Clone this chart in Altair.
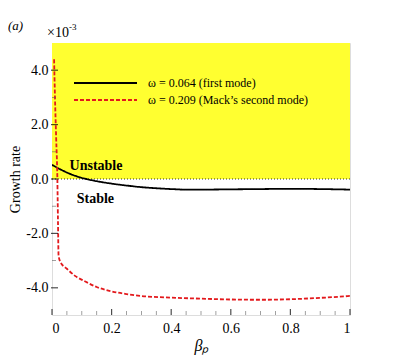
import altair as alt
import pandas as pd

# ---- data (growth rate in units of 1e-3) ----
beta_first = [0.0, 0.02, 0.04, 0.06, 0.08, 0.10, 0.115, 0.15, 0.20, 0.25, 0.30, 0.35,
              0.40, 0.45, 0.50, 0.60, 0.70, 0.80, 0.90, 1.0]
rate_first = [0.52, 0.40, 0.29, 0.19, 0.11, 0.04, 0.0, -0.08, -0.17, -0.24, -0.30, -0.34,
              -0.37, -0.39, -0.39, -0.38, -0.37, -0.36, -0.37, -0.39]

beta_second = [0.007, 0.010, 0.014, 0.018, 0.020, 0.022, 0.028, 0.05, 0.08, 0.11, 0.15,
               0.20, 0.25, 0.30, 0.40, 0.50, 0.60, 0.70, 0.80, 0.90, 1.0]
rate_second = [4.4, 3.0, 1.5, 0.0, -1.5, -2.8, -3.05, -3.3, -3.58, -3.76, -3.97,
               -4.13, -4.23, -4.30, -4.36, -4.40, -4.43, -4.44, -4.42, -4.37, -4.30]

series_names = ["\u03c9 = 0.064 (first mode)", "\u03c9 = 0.209 (Mack\u2019s second mode)"]
series_colors = ["#000000", "#e3191c"]
series_dash = [[1, 0], [4, 2]]

x_major = [0.0, 0.2, 0.4, 0.6, 0.8, 1.0]
x_minor = [0.05, 0.1, 0.15, 0.25, 0.3, 0.35, 0.45, 0.5, 0.55, 0.65, 0.7, 0.75, 0.85, 0.9, 0.95]
y_major = [-4, -2, 0, 2, 4]
y_minor = [-3, -1, 1, 3]

x_domain = [0, 1]
y_domain = [-5, 5]

W, H = 298, 272
FONT = "Liberation Serif"

rows = []
for b, r in zip(beta_first, rate_first):
    rows.append({"beta": b, "rate": r, "series": series_names[0], "i": len(rows)})
for b, r in zip(beta_second, rate_second):
    rows.append({"beta": b, "rate": r, "series": series_names[1], "i": len(rows)})
df = pd.DataFrame(rows)

xs = alt.Scale(domain=x_domain, nice=False)
ys = alt.Scale(domain=y_domain, nice=False)

# unstable region
region = pd.DataFrame({"x": [x_domain[0]], "x2": [x_domain[1]], "y": [0], "y2": [y_domain[1]]})
rect = alt.Chart(region).mark_rect(color="#ffff30").encode(
    x=alt.X("x:Q", scale=xs, axis=alt.Axis(
        title="\u03b2\u209a", values=x_major, format="~g", ticks=False, domain=False, grid=False,
        labelFont=FONT, labelFontSize=14, labelColor="black", labelPadding=6,
        titleFont=FONT, titleFontSize=16, titleFontStyle="italic", titleFontWeight="normal",
        titleColor="black", titlePadding=2)),
    x2="x2:Q",
    y=alt.Y("y:Q", scale=ys, axis=alt.Axis(
        title="Growth rate", values=y_major, ticks=False, domain=False, grid=False,
        labelExpr="datum.value < 0 ? '-' + format(-datum.value, '.1f') : format(datum.value, '.1f')",
        labelFont=FONT, labelFontSize=14, labelColor="black", labelPadding=4,
        titleFont=FONT, titleFontSize=14, titleFontWeight="normal", titleColor="black",
        titlePadding=3)),
    y2="y2:Q",
)

zero = pd.DataFrame({"x": [x_domain[0]], "x2": [x_domain[1]], "y": [0]})
zero_rule = alt.Chart(zero).mark_rule(color="black", strokeWidth=0.8, strokeDash=[1, 2]).encode(
    x=alt.X("x:Q", scale=xs), x2="x2:Q", y=alt.Y("y:Q", scale=ys))

lines = alt.Chart(df).mark_line(strokeWidth=1.8, interpolate="monotone", clip=True).encode(
    x=alt.X("beta:Q", scale=xs),
    y=alt.Y("rate:Q", scale=ys),
    order="i:Q",
    color=alt.Color("series:N", scale=alt.Scale(domain=series_names, range=series_colors),
                    legend=None),
    strokeDash=alt.StrokeDash("series:N", scale=alt.Scale(domain=series_names,
                                                          range=series_dash), legend=None),
)

# manual legend (line sample + label per series)
legend_layers = []
for k, (name, col, dash) in enumerate(zip(series_names, series_colors, series_dash)):
    yy = 40 + 17 * k
    one = pd.DataFrame({"t": [name]})
    legend_layers.append(alt.Chart(one).mark_rule(color=col, strokeWidth=1.8, strokeDash=dash).encode(
        x=alt.value(22), x2=alt.value(85), y=alt.value(yy)))
    legend_layers.append(alt.Chart(one).mark_text(font=FONT, fontSize=12, align="left",
                                                  baseline="middle", color="black").encode(
        x=alt.value(96), y=alt.value(yy), text="t:N"))

xmaj = alt.Chart(pd.DataFrame({"v": x_major})).mark_tick(orient="vertical", size=6, thickness=1.2,
                                                         color="black").encode(
    x=alt.X("v:Q", scale=xs), y=alt.value(H - 3))
xmin = alt.Chart(pd.DataFrame({"v": x_minor})).mark_tick(orient="vertical", size=4, thickness=0.8,
                                                         color="#555").encode(
    x=alt.X("v:Q", scale=xs), y=alt.value(H - 2))
ymaj = alt.Chart(pd.DataFrame({"v": y_major})).mark_tick(orient="horizontal", size=7, thickness=1.2,
                                                         color="black").encode(
    y=alt.Y("v:Q", scale=ys), x=alt.value(2.5))
ymin = alt.Chart(pd.DataFrame({"v": y_minor})).mark_tick(orient="horizontal", size=4, thickness=0.8,
                                                         color="#555").encode(
    y=alt.Y("v:Q", scale=ys), x=alt.value(2))

labels = pd.DataFrame({"x": [0.059, 0.083], "y": [0.34, -0.87], "t": ["Unstable", "Stable"]})
region_text = alt.Chart(labels).mark_text(font=FONT, fontSize=14, fontWeight="bold", align="left",
                                          baseline="alphabetic", color="black").encode(
    x=alt.X("x:Q", scale=xs), y=alt.Y("y:Q", scale=ys), text="t:N")

scale_note = alt.Chart(pd.DataFrame({"t": ["\u00d710"]})).mark_text(
    font=FONT, fontSize=14, align="left", baseline="alphabetic", color="black").encode(
    x=alt.value(-5), y=alt.value(-6), text="t:N")
scale_exp = alt.Chart(pd.DataFrame({"t": ["-3"]})).mark_text(
    font=FONT, fontSize=9, align="left", baseline="alphabetic", color="black").encode(
    x=alt.value(17), y=alt.value(-13), text="t:N")
panel = alt.Chart(pd.DataFrame({"t": ["(a)"]})).mark_text(
    font=FONT, fontSize=13, fontStyle="italic", align="left", baseline="alphabetic",
    color="black").encode(x=alt.value(-44), y=alt.value(-13), text="t:N")

chart = alt.layer(rect, zero_rule, lines, *legend_layers, xmaj, xmin, ymaj, ymin, region_text,
                  scale_note, scale_exp, panel).properties(
    width=W, height=H,
    autosize=alt.AutoSizeParams(type="none"),
    padding={"left": 44, "top": 35, "right": 40, "bottom": 40},
).configure_view(stroke="black", strokeWidth=1.6).configure(background="white")

chart.save("out.html", embed_options={"renderer": "svg", "actions": False})
